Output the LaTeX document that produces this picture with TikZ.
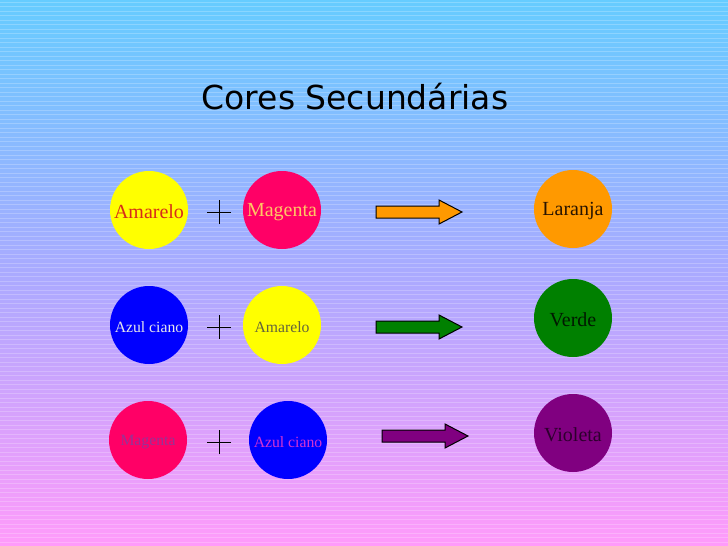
\documentclass[tikz,border=0pt]{standalone}
\usepackage{fontspec}
\setmainfont{Liberation Serif}
\newfontfamily\titlefont{DejaVu Sans}
\definecolor{bgtop}{RGB}{102,204,255}
\definecolor{bgmid}{RGB}{170,170,255}
\definecolor{bgbot}{RGB}{255,155,250}
\definecolor{cyel}{RGB}{255,255,0}
\definecolor{cmag}{RGB}{255,0,102}
\definecolor{cblu}{RGB}{0,0,255}
\definecolor{cora}{RGB}{255,153,0}
\definecolor{cgre}{RGB}{0,128,0}
\definecolor{cvio}{RGB}{128,0,128}
\definecolor{tred}{RGB}{215,45,25}
\definecolor{tpeach}{RGB}{255,200,100}
\definecolor{twhite}{RGB}{230,230,235}
\definecolor{tolive}{RGB}{100,100,60}
\definecolor{tpurp}{RGB}{150,50,150}
\definecolor{tpink}{RGB}{210,50,210}
\definecolor{tbrown}{RGB}{40,20,0}
\definecolor{tdgreen}{RGB}{0,25,0}
\definecolor{tdvio}{RGB}{45,0,45}
\begin{document}
\begin{tikzpicture}[x=1pt,y=-1pt,
  disc/.style={circle, minimum size=78pt, inner sep=0pt},
  big/.style={font=\fontsize{20}{20}\selectfont, yshift=-2pt},
  small/.style={font=\fontsize{15.7}{16}\selectfont, yshift=-2pt},
  plusmark/.style={draw=black, line width=0.8pt},
  blockarrow/.style={draw=black, line width=1pt, line join=miter}]
\useasboundingbox (0,0) rectangle (728,546);
\fill[top color=bgtop, bottom color=bgbot, middle color=bgmid] (0,0) rectangle (728,546);
\foreach \yy in {2,6.5,...,546} \draw[white, opacity=0.22, line width=0.8pt] (0,\yy) -- (728,\yy);

\node[font=\titlefont\fontsize{33}{33}\selectfont, text=black] (title) at (355,97) {Cores Secundárias};

% row 1
\node[disc, fill=cyel, label={[big, text=tred]center:Amarelo}] (a1) at (149,210) {};
\node[disc, fill=cmag, label={[big, text=tpeach]center:Magenta}] (b1) at (282,210) {};
\node[disc, fill=cora, label={[big, text=tbrown]center:Laranja}] (r1) at (573,209) {};
\coordinate (p1) at (219,212);
\draw[plusmark] ([xshift=-12pt]p1) -- ([xshift=12pt]p1);
\draw[plusmark] ([yshift=-12pt]p1) -- ([yshift=12pt]p1);
\draw[blockarrow, fill=cora] (376,206) -- (439,206) -- (439,200) -- (462,212) -- (439,224) -- (439,218) -- (376,218) -- cycle;

% row 2
\node[disc, fill=cblu, label={[small, text=twhite]center:Azul ciano}] (a2) at (149,325) {};
\node[disc, fill=cyel, label={[small, text=tolive]center:Amarelo}] (b2) at (282,325) {};
\node[disc, fill=cgre, label={[big, text=tdgreen]center:Verde}] (r2) at (573,318) {};
\coordinate (p2) at (219,327);
\draw[plusmark] ([xshift=-12pt]p2) -- ([xshift=12pt]p2);
\draw[plusmark] ([yshift=-12pt]p2) -- ([yshift=12pt]p2);
\draw[blockarrow, fill=cgre] (376,321) -- (439,321) -- (439,315) -- (462,327) -- (439,339) -- (439,333) -- (376,333) -- cycle;

% row 3
\node[disc, fill=cmag, label={[small, text=tpurp]center:Magenta}] (a3) at (148,440) {};
\node[disc, fill=cblu, label={[small, text=tpink]center:Azul ciano}] (b3) at (288,440) {};
\node[disc, fill=cvio, label={[big, text=tdvio]center:Violeta}] (r3) at (573,433) {};
\coordinate (p3) at (219,442);
\draw[plusmark] ([xshift=-12pt]p3) -- ([xshift=12pt]p3);
\draw[plusmark] ([yshift=-12pt]p3) -- ([yshift=12pt]p3);
\draw[blockarrow, fill=cvio] (382,430) -- (445,430) -- (445,424) -- (468,436) -- (445,448) -- (445,442) -- (382,442) -- cycle;
\end{tikzpicture}
\end{document}
